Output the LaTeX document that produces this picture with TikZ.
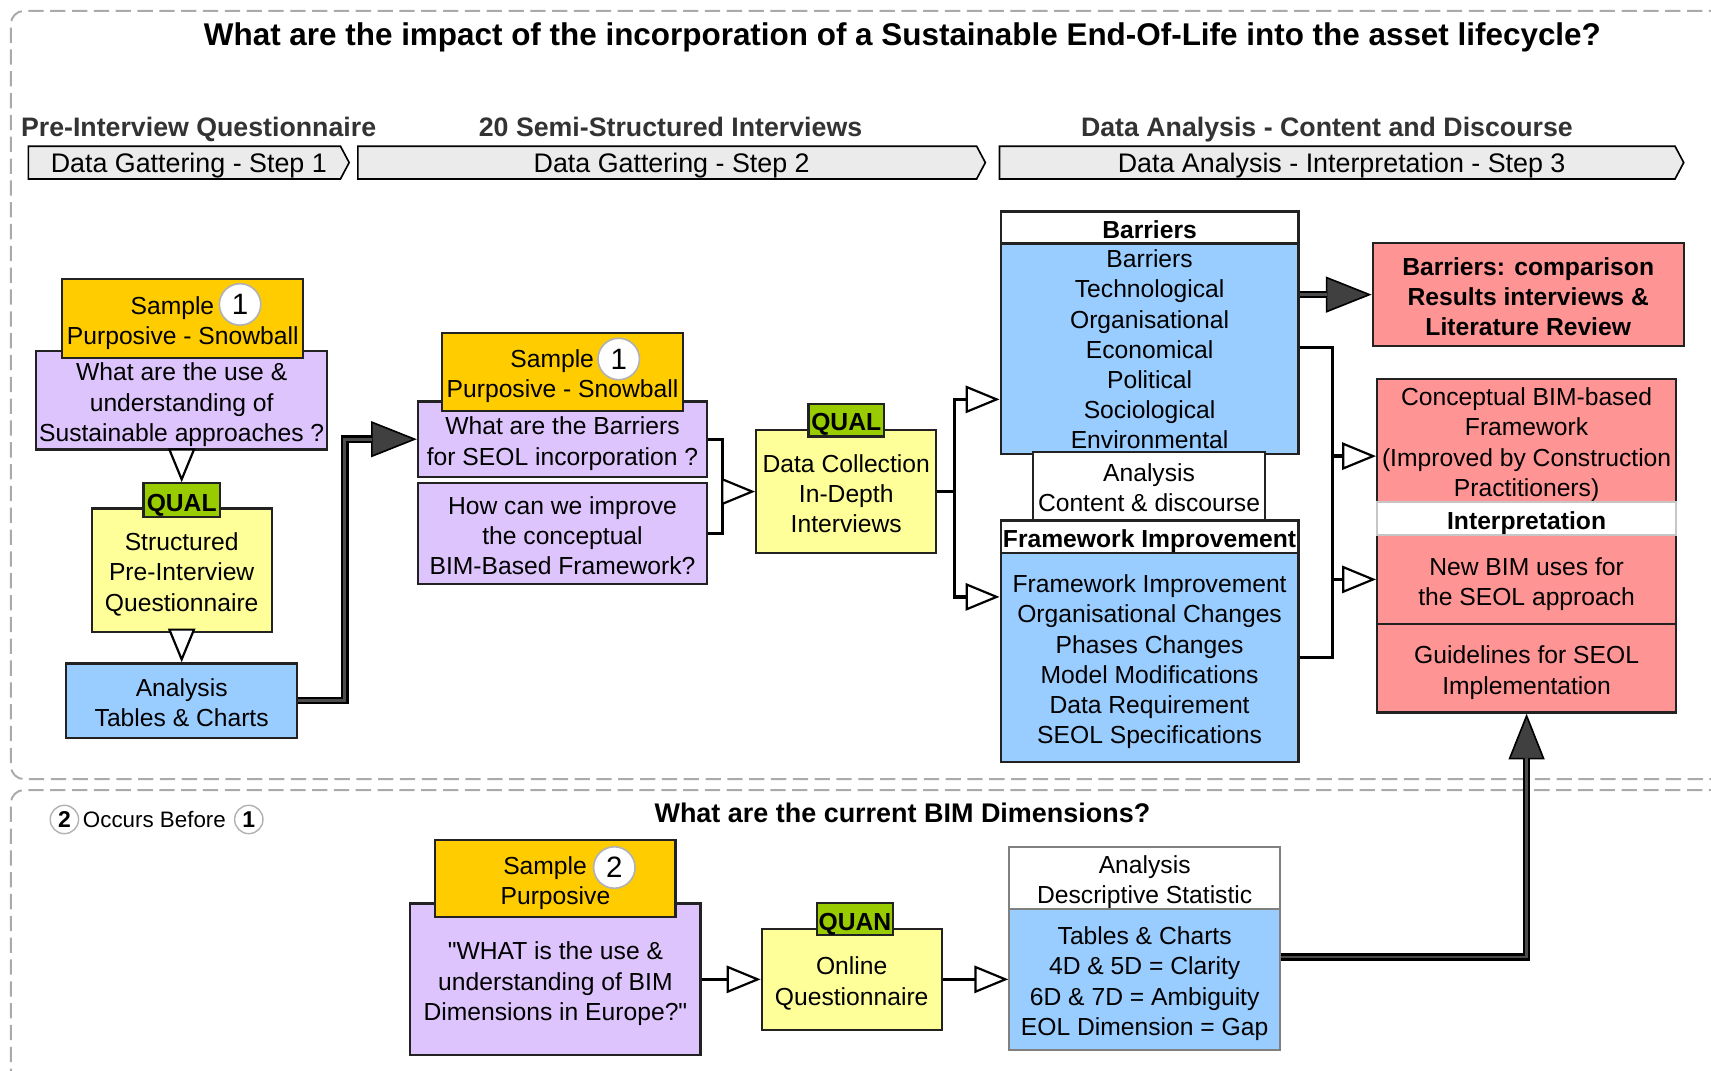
\documentclass[tikz,border=0pt]{standalone}
\usepackage{fontspec}
\setmainfont{Liberation Sans}[Ligatures=TeXOff]
\usetikzlibrary{arrows.meta,shapes.symbols,calc}

\definecolor{cOrange}{HTML}{FFCC00}
\definecolor{cPurple}{HTML}{DDC4FC}
\definecolor{cYellow}{HTML}{FFFF99}
\definecolor{cGreen}{HTML}{99CC00}
\definecolor{cBlue}{HTML}{99CCFF}
\definecolor{cRed}{HTML}{FF9494}
\definecolor{cStep}{HTML}{EBEBEB}
\definecolor{cFrame}{HTML}{AAAAAA}
\definecolor{cEdge}{HTML}{222222}

% struts: the same top and bottom room for every text block in a box
\newcommand{\tst}{\rule{0pt}{24.5pt}}
\newcommand{\bst}{\rule[-4.8pt]{0pt}{4.8pt}}

\tikzset{
  body/.style={font=\fontsize{22.6}{27.7}\selectfont},
  boldbody/.style={font=\bfseries\fontsize{22.6}{27.7}\selectfont},
  bx/.style 2 args={draw=cEdge, line width=2pt, align=center, inner sep=0pt,
    minimum width=#1pt, minimum height=#2pt, body},
  tag/.style 2 args={bx={#1}{#2}, fill=cGreen, boldbody},
  numc/.style={circle, fill=white, draw=gray!60, line width=1.5pt,
    minimum size=38pt, inner sep=0pt, font=\fontsize{27}{27}\selectfont},
  smallnum/.style={circle, fill=white, draw=gray!60, line width=1.3pt,
    minimum size=26pt, inner sep=0pt, font=\bfseries\fontsize{21}{21}\selectfont},
  frame/.style={draw=cFrame, line width=1.8pt, dash pattern=on 14pt off 6pt,
    rounded corners=12pt},
  title/.style={font=\bfseries\fontsize{28.8}{34}\selectfont,
    text height=20.6pt, text depth=0pt},
  subhead/.style={font=\bfseries\fontsize{24.5}{29}\selectfont, text=black!80,
    text height=17.5pt, text depth=0pt},
  stepbar/.style={signal, signal to=east, signal pointer angle=124,
    draw=black, line width=1.5pt, fill=cStep, minimum height=30pt,
    inner sep=0pt, font=\fontsize{24.6}{29}\selectfont,
    text height=17.6pt, text depth=0pt},
  link/.style={draw=black, line width=3pt},
  openarr/.style={-{Triangle[length=31pt,width=25pt,fill=white,line width=2pt]}},
  heavy/.style={draw=black, line width=7pt,
    -{Triangle[length=42pt,width=33pt,fill=black!75,line width=1.5pt]}},
  heavycore/.style={draw=black!70, line width=2.5pt, shorten >=41pt}
}

\begin{document}
\begin{tikzpicture}[x=1pt,y=-1pt]
\useasboundingbox (0,0) rectangle (1568,981);
\clip (0,0) rectangle (1568,981);

% dashed frames of the two studies
\draw[frame] (1600,10) -- (10,10) -- (10,714) -- (1600,714);
\draw[frame] (1600,724) -- (10,724) -- (10,1010);

% headings
\node[title] (t0) at (827,31) {What are the impact of the incorporation of a Sustainable End-Of-Life into the asset lifecycle?};
\node[subhead] (h1) at (182,116) {Pre-Interview Questionnaire};
\node[subhead] (h2) at (614.5,116) {20 Semi-Structured Interviews};
\node[subhead] (h3) at (1216,116) {Data Analysis - Content and Discourse};

\node[stepbar, minimum width=294pt] (s1) at (169,149) {\hspace*{8pt}Data Gattering - Step 1};
\node[stepbar, minimum width=575pt] (s2) at (611.5,149) {\hspace*{8pt}Data Gattering - Step 2};
\node[stepbar, minimum width=627pt] (s3) at (1225.5,149) {\hspace*{8pt}Data Analysis - Interpretation - Step 3};

% step 1: pre-interview questionnaire
\node[bx={267}{90}, fill=cPurple] (pL) at (166.5,367) {\tst What are the use \&\\understanding of\\Sustainable approaches ?\bst};
\node[bx={221}{72}, fill=cOrange] (oL) at (167.5,292) {\tst Sample\hspace*{19pt}\\Purposive - Snowball\bst};
\node[numc] (cL) at (220,279) {1};
\node[bx={165}{113}, fill=cYellow] (yL) at (166.5,522.5) {\tst Structured\\Pre-Interview\\Questionnaire\bst};
\node[tag={70}{31}] (qL) at (166.5,458.5) {\tst QUAL\bst};
\node[bx={212}{68}, fill=cBlue] (bL) at (166.5,642) {\tst Analysis\\Tables \& Charts\bst};

\draw[link, openarr] (pL.south) -- (qL.north);
\draw[link, openarr] (yL.south) -- (bL.north);

% step 2: interviews
\node[bx={265}{69}, fill=cPurple] (pM1) at (515.5,402.5) {\tst What are the Barriers\\for SEOL incorporation ?\bst};
\node[bx={265}{92}, fill=cPurple] (pM2) at (515.5,489) {\tst How can we improve\\the conceptual\\BIM-Based Framework?\bst};
\node[bx={221}{72}, fill=cOrange] (oM) at (515.5,341) {\tst Sample\hspace*{19pt}\\Purposive - Snowball\bst};
\node[numc] (cM) at (567,329) {1};
\node[bx={165}{113}, fill=cYellow] (yM) at (775.5,450.5) {\tst Data Collection\\In-Depth\\Interviews\bst};
\node[tag={69}{30}] (qM) at (775.5,385) {\tst QUAL\bst};

\coordinate (kL) at (316,402.5);
\draw[heavy] (bL.east) -| (kL) -- (pM1.west);
\draw[heavycore] (bL.east) -| (kL) -- (pM1.west);

\coordinate (jM) at (662,450.5);
\draw[link] (pM1.east) -| (jM);
\draw[link] (pM2.east) -| (jM);
\draw[link, openarr] (jM) -- (yM.west);

% step 3: analysis
\node[bx={273}{191}, fill=cBlue] (bB) at (1053.5,318.5) {\tst Barriers\\Technological\\Organisational\\Economical\\Political\\Sociological\\Environmental\bst};
\node[bx={273}{29}, fill=white, boldbody] (hB) at (1053.5,208.5) {\tst Barriers\bst};
\node[bx={212}{63}, fill=white] (aC) at (1053,445.5) {\tst Analysis\\Content \& discourse\bst};
\node[bx={273}{191}, fill=cBlue] (bF) at (1053.5,602.5) {\tst Framework Improvement\\Organisational Changes\\Phases Changes\\Model Modifications\\Data Requirement\\SEOL Specifications\bst};
\node[bx={273}{30}, fill=white, boldbody] (hF) at (1053.5,492) {\tst Framework Improvement\bst};

\coordinate (jN) at (875,450.5);
\draw[link] (yM.east) -- (jN);
\draw[link, openarr] (jN) |- ($(bB.west)+(0,47.5)$);
\draw[link, openarr] (jN) |- ($(bF.west)+(0,-55.5)$);

% results
\node[bx={285}{94}, fill=cRed, boldbody] (r1) at (1400.5,270) {\tst Barriers: comparison\\Results interviews \&\\Literature Review\bst};
\node[bx={274}{113}, fill=cRed] (r2) at (1399,403.5) {\tst Conceptual BIM-based\\Framework\\(Improved by Construction\\Practitioners)\bst};
\node[bx={274}{82}, fill=cRed] (r3) at (1399,531) {\tst New BIM uses for\\the SEOL approach\bst};
\node[bx={274}{81}, fill=cRed] (r4) at (1399,612.5) {\tst Guidelines for SEOL\\Implementation\bst};
\node[bx={274}{30}, fill=white, draw=gray!45, boldbody] (hI) at (1399,475) {\tst Interpretation\bst};

\draw[heavy] (bB.east |- r1.west) -- (r1.west);
\draw[heavycore] (bB.east |- r1.west) -- (r1.west);

\coordinate (jR) at (1221,318.5);
\coordinate (e2) at ($(r2.west)+(0,14.5)$);
\draw[link] (bB.east) -- (jR) |- (bF.east);
\draw[link, openarr] (jR |- e2) -- (e2);
\draw[link, openarr] (jR |- r3.west) -- (r3.west);

% survey on BIM dimensions
\node[smallnum] (o2) at (59,751) {2};
\node[font=\fontsize{20.5}{24}\selectfont, text height=14.7pt, text depth=0pt] (occ) at (141.5,751) {Occurs Before};
\node[smallnum] (o1) at (228,751) {1};
\node[title, font=\bfseries\fontsize{24.7}{29}\selectfont, text height=17.7pt] (t2) at (827,745) {What are the current BIM Dimensions?};

\node[bx={266}{139}, fill=cPurple] (pB) at (509,897.5) {\tst"WHAT is the use \&\\understanding of BIM\\Dimensions in Europe?"\bst};
\node[bx={220}{70}, fill=cOrange] (oB) at (509,805) {\tst Sample\hspace*{19pt}\\Purposive\bst};
\node[numc] (cB) at (563,795) {2};
\node[bx={165}{93}, fill=cYellow] (yB) at (780.5,897.5) {\tst Online\\Questionnaire\bst};
\node[tag={69}{29}] (qB) at (783.5,842.5) {\tst QUAN\bst};
\node[bx={248}{57}, fill=white, draw=gray] (aB) at (1049,804.5) {\tst Analysis\\Descriptive Statistic\bst};
\node[bx={248}{129}, fill=cBlue, draw=gray] (bB2) at (1049,897.5) {\tst Tables \& Charts\\4D \& 5D = Clarity\\6D \& 7D = Ambiguity\\EOL Dimension = Gap\bst};

\draw[link, openarr] (pB.east) -- (yB.west);
\draw[link, openarr] (yB.east) -- (bB2.west);

\coordinate (k2) at ($(bB2.east)+(0,-20.5)$);
\draw[heavy] (k2) -| (r4.south);
\draw[heavycore] (k2) -| (r4.south);
\end{tikzpicture}
\end{document}
